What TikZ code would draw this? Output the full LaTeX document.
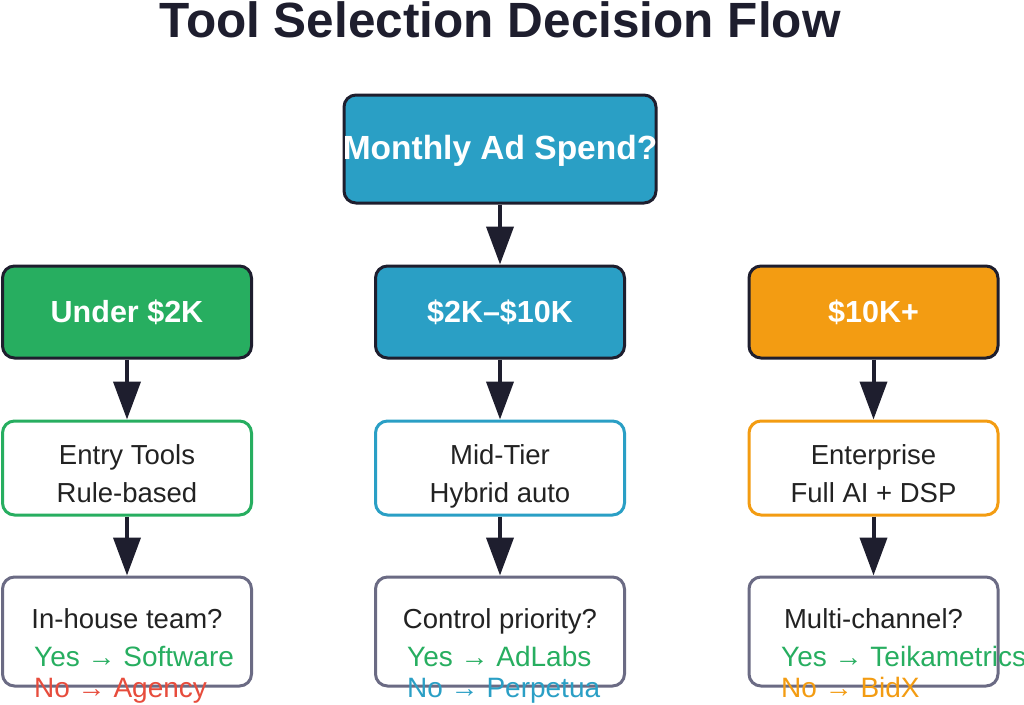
\documentclass[tikz,border=0pt]{standalone}
\usepackage{fontspec}
\setmainfont{Liberation Sans}
\usetikzlibrary{arrows.meta}
\definecolor{ink}{HTML}{1E1E2E}
\definecolor{teal}{HTML}{2A9FC5}
\definecolor{grn}{HTML}{27AE60}
\definecolor{org}{HTML}{F39C12}
\definecolor{red}{HTML}{E74C3C}
\definecolor{gry}{HTML}{6B6B84}
\definecolor{txt}{HTML}{222222}
\tikzset{
  box/.style={rectangle, rounded corners=12pt, line width=3pt, inner sep=0pt, minimum width=249pt},
  fillbox/.style={box, draw=ink, fill=#1},
  linebox/.style={box, draw=#1, fill=white},
  whitebold/.style={anchor=base, text=white, font=\bfseries\fontsize{30.5}{30.5}\selectfont, inner sep=0pt},
  bodytxt/.style={anchor=base, text=txt, font=\fontsize{27.5}{27.5}\selectfont, inner sep=0pt},
  choice/.style={anchor=base west, text=#1, font=\fontsize{28}{28}\selectfont, inner sep=0pt},
  flow/.style={draw=ink, line width=4pt, -{Triangle[length=38pt,width=27pt]}}
}
\begin{document}
\begin{tikzpicture}[x=1pt,y=-1pt]
\useasboundingbox[fill=white] (0,0) rectangle (1024,704);
\node[anchor=base, text=ink, font=\bfseries\fontsize{49.5}{49.5}\selectfont, inner sep=0pt] (title) at (500,37) {Tool Selection Decision Flow};

% row 1
\node[fillbox=teal, minimum width=312pt, minimum height=108pt] (top) at (500,149) {};
\node[whitebold, font=\bfseries\fontsize{33.5}{33.5}\selectfont] (toptxt) at (500,159) {Monthly Ad Spend?};

% row 2
\node[fillbox=grn, minimum height=92pt] (lo) at (127,312) {};
\node[fillbox=teal, minimum height=92pt] (mid) at (500,312) {};
\node[fillbox=org, minimum height=92pt] (hi) at (873.5,312) {};
\node[whitebold] (lotxt) at (127,322) {Under \$2K};
\node[whitebold] (midtxt) at (500,322) {\$2K–\$10K};
\node[whitebold] (hitxt) at (873.5,322) {\$10K+};

% row 3
\node[linebox=grn, minimum height=94pt] (entry) at (127,468) {};
\node[linebox=teal, minimum height=94pt] (midtier) at (500,468) {};
\node[linebox=org, minimum height=94pt] (ent) at (873.5,468) {};
\node[bodytxt] (entry1) at (127,464) {Entry Tools};
\node[bodytxt] (entry2) at (127,502) {Rule-based};
\node[bodytxt] (midtier1) at (500,464) {Mid-Tier};
\node[bodytxt] (midtier2) at (500,502) {Hybrid auto};
\node[bodytxt] (ent1) at (873.5,464) {Enterprise};
\node[bodytxt] (ent2) at (873.5,502) {Full AI + DSP};

% row 4
\node[linebox=gry, minimum height=109pt] (q1) at (127,631.5) {};
\node[linebox=gry, minimum height=109pt] (q2) at (500,631.5) {};
\node[linebox=gry, minimum height=109pt] (q3) at (873.5,631.5) {};
\node[bodytxt] (q1t) at (127,628) {In-house team?};
\node[bodytxt] (q2t) at (500,628) {Control priority?};
\node[bodytxt] (q3t) at (873.5,628) {Multi-channel?};
\node[choice=grn] (q1y) at (34,666) {Yes → Software};
\node[choice=red] (q1n) at (34,697) {No → Agency};
\node[choice=grn] (q2y) at (407,666) {Yes → AdLabs};
\node[choice=teal] (q2n) at (407,697) {No → Perpetua};
\node[choice=grn] (q3y) at (781,666) {Yes → Teikametrics};
\node[choice=org] (q3n) at (781,697) {No → BidX};

% connectors
\draw[flow] (top.south) -- (mid.north);
\draw[flow] (lo.south) -- (entry.north);
\draw[flow] (mid.south) -- (midtier.north);
\draw[flow] (hi.south) -- (ent.north);
\draw[flow] (entry.south) -- (q1.north);
\draw[flow] (midtier.south) -- (q2.north);
\draw[flow] (ent.south) -- (q3.north);
\end{tikzpicture}
\end{document}
